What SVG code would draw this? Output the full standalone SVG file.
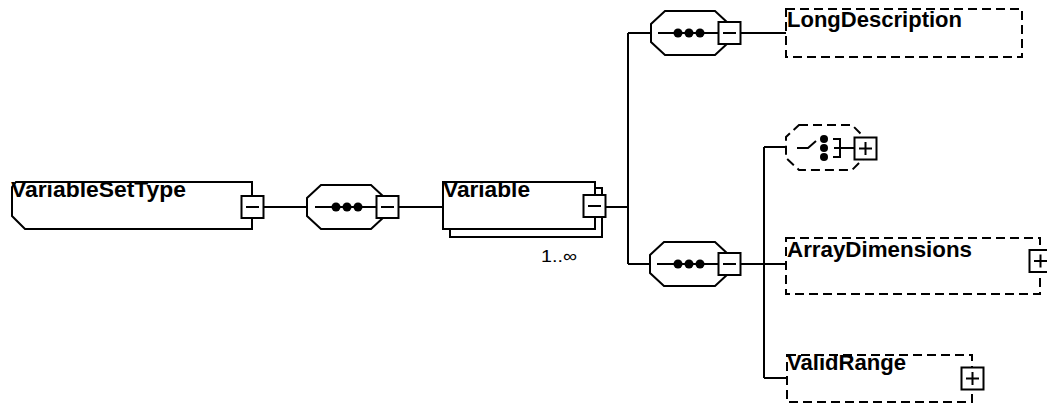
<svg xmlns="http://www.w3.org/2000/svg" width="1047" height="405" viewBox="0 0 1047 405">
<style>
.ln{fill:none;stroke:#000;stroke-width:2}
.box{fill:#fff;stroke:#000;stroke-width:2}
.dash{fill:#fff;stroke:#000;stroke-width:2;stroke-dasharray:9 5}
.btn{fill:#fff;stroke:#000;stroke-width:2}
.sym{fill:none;stroke:#000;stroke-width:2}
.lbl{font-family:"Liberation Sans",Arial,sans-serif;font-weight:bold;font-size:22px;fill:#000}
.occ{font-family:"Liberation Sans",Arial,sans-serif;font-size:17px;fill:#000}
</style>
<g id="connectors">
<path class="ln" d="M263,207H307 M399,207H443 M606,207H628 M628,33V264 M628,33H651 M628,264H650 M741,33H786 M741,264H764 M764,147V378 M764,147H786 M764,264H786 M764,378H787"/>
</g>
<g id="VariableSetType">
<path class="box" d="M16,182H252V229H25L12,216V187Z"/>
<text class="lbl" x="11" y="197" textLength="175" lengthAdjust="spacingAndGlyphs">VariableSetType</text>
<rect class="btn" x="241.5" y="196" width="22" height="22"/>
<path class="sym" d="M246,207H259"/>
</g>
<g id="seq1">
<path class="box" d="M321,185H371L385,198V216L371,229H321L307,216V198Z"/>
<path class="sym" d="M315,207H376"/>
<circle cx="336" cy="207" r="4.5"/><circle cx="347" cy="207" r="4.5"/><circle cx="358" cy="207" r="4.5"/>
<rect class="btn" x="376.5" y="196" width="22" height="22"/>
<path class="sym" d="M381,207H394"/>
</g>
<g id="Variable">
<rect class="box" x="450" y="188" width="152" height="49"/>
<rect class="box" x="443" y="182" width="152" height="47"/>
<text class="lbl" x="443" y="197" textLength="87" lengthAdjust="spacingAndGlyphs">Variable</text>
<rect class="btn" x="583.5" y="195" width="22" height="22"/>
<path class="sym" d="M588,206H601"/>
<text class="occ" x="541" y="262" textLength="36" lengthAdjust="spacingAndGlyphs">1..∞</text>
</g>
<g id="seq2">
<path class="box" d="M665,11H715L729,24V42L715,55H665L651,42V24Z"/>
<path class="sym" d="M658,33H718"/>
<circle cx="678" cy="33" r="4.5"/><circle cx="689" cy="33" r="4.5"/><circle cx="700" cy="33" r="4.5"/>
<rect class="btn" x="718.5" y="22" width="22" height="22"/>
<path class="sym" d="M723,33H736"/>
</g>
<g id="LongDescription">
<rect class="dash" x="786" y="9" width="236" height="48"/>
<text class="lbl" x="787" y="27" textLength="175" lengthAdjust="spacingAndGlyphs">LongDescription</text>
</g>
<g id="seq3">
<path class="box" d="M664,242H715L729,255V273L715,286H664L650,273V255Z"/>
<path class="sym" d="M657,264H718"/>
<circle cx="678" cy="264" r="4.5"/><circle cx="689" cy="264" r="4.5"/><circle cx="700" cy="264" r="4.5"/>
<rect class="btn" x="718.5" y="253" width="22" height="22"/>
<path class="sym" d="M723,264H736"/>
</g>
<g id="choice">
<path class="dash" d="M799,125H852L864,137V158L852,170H799L786,158V137Z"/>
<path class="sym" d="M797,148H808L816,141"/>
<circle cx="824" cy="139" r="4"/><circle cx="824" cy="148" r="4"/><circle cx="824" cy="157" r="4"/>
<path class="sym" d="M833,139H840V157H833 M834,148H854"/>
<rect class="btn" x="854.5" y="137.5" width="22" height="22"/>
<path class="sym" d="M859,148.5H872 M865.5,142V155"/>
</g>
<g id="ArrayDimensions">
<rect class="dash" x="786" y="238" width="254" height="56"/>
<text class="lbl" x="787" y="257" textLength="185" lengthAdjust="spacingAndGlyphs">ArrayDimensions</text>
<rect class="btn" x="1029.5" y="250" width="22" height="22"/>
<path class="sym" d="M1034,261H1047 M1040.5,254.5V267.5"/>
</g>
<g id="ValidRange">
<rect class="dash" x="787" y="355" width="185" height="47"/>
<text class="lbl" x="787" y="370" textLength="119" lengthAdjust="spacingAndGlyphs">ValidRange</text>
<rect class="btn" x="961.5" y="367.5" width="22" height="22"/>
<path class="sym" d="M966,378.5H979 M972.5,372V385"/>
</g>
</svg>
